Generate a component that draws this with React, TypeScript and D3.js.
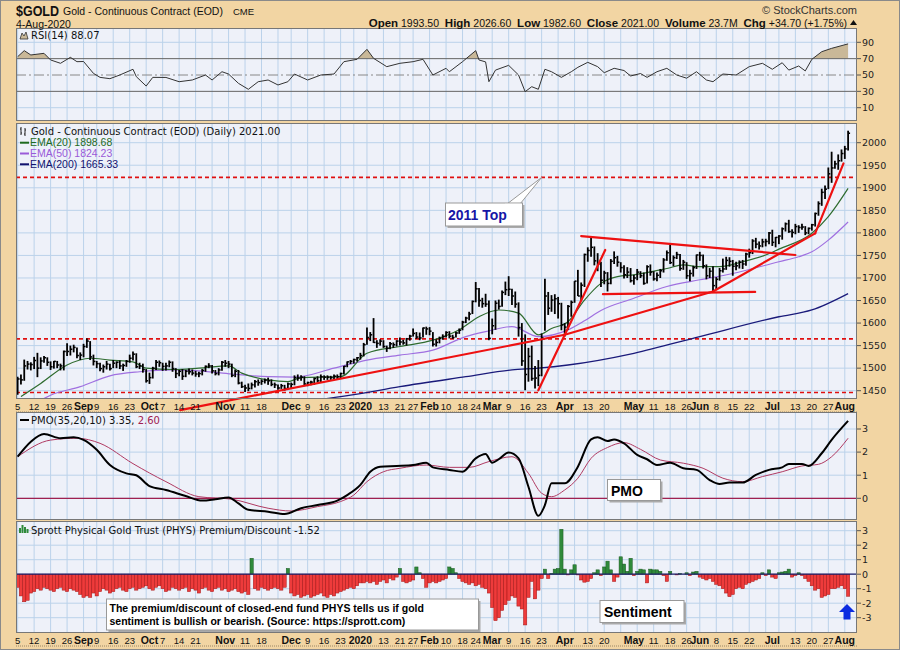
import React, { useEffect, useRef } from "react";
import * as d3 from "d3";

// ---------------------------------------------------------------------------
// DATA
// ---------------------------------------------------------------------------
const holidays = [
  "2019-09-02", "2019-11-28", "2019-12-25", "2020-01-01", "2020-01-20",
  "2020-02-17", "2020-04-10", "2020-05-25", "2020-07-03",
];

// daily bars, Aug 5 2019 .. Aug 4 2020 (one line per month)
const highs = [
  1481, 1486, 1519, 1516, 1513, 1525, 1534, 1524, 1527, 1524, 1515, 1516, 1516, 1510, 1539, 1555, 1550, 1552, 1546, 1535,
  1554, 1566, 1560, 1530, 1516, 1512, 1508, 1516, 1510, 1518, 1515, 1517, 1510, 1518, 1530, 1537, 1533, 1512, 1510, 1498,
  1490, 1503, 1518, 1517, 1512, 1512, 1517, 1515, 1500, 1496, 1498, 1496, 1499, 1497, 1494, 1492, 1498, 1506, 1511, 1507, 1496, 1500, 1516,
  1518, 1516, 1510, 1497, 1496, 1470, 1463, 1466, 1468, 1474, 1475, 1475, 1477, 1479, 1475, 1468, 1464, 1465, 1463, 1468,
  1468, 1484, 1486, 1484, 1482, 1470, 1472, 1479, 1482, 1486, 1484, 1484, 1483, 1486, 1486, 1490, 1505, 1515, 1518, 1521, 1525,
  1534, 1556, 1590, 1580, 1611, 1562, 1564, 1562, 1550, 1558, 1557, 1562, 1568, 1563, 1567, 1574, 1588, 1580, 1579, 1590, 1592,
  1591, 1580, 1564, 1570, 1575, 1582, 1582, 1574, 1581, 1588, 1605, 1614, 1625, 1650, 1691, 1678, 1656, 1665, 1650,
  1610, 1650, 1652, 1672, 1692, 1704, 1676, 1670, 1646, 1600, 1575, 1545, 1550, 1505, 1518, 1577, 1698, 1669, 1662, 1664, 1658, 1645,
  1600, 1640, 1650, 1693, 1718, 1690, 1754, 1768, 1790, 1770, 1755, 1736, 1716, 1713, 1742, 1759, 1749, 1735, 1728, 1724, 1722,
  1707, 1720, 1715, 1712, 1728, 1730, 1715, 1712, 1720, 1744, 1761, 1775, 1750, 1758, 1753, 1740, 1735, 1718, 1727, 1752,
  1758, 1752, 1730, 1722, 1726, 1702, 1722, 1743, 1747, 1746, 1740, 1736, 1739, 1740, 1756, 1765, 1786, 1789, 1781, 1787, 1787, 1802,
  1807, 1791, 1795, 1812, 1823, 1829, 1808, 1820, 1817, 1820, 1815, 1812, 1820, 1845, 1870, 1898, 1905, 1945, 1980, 1960, 1974, 1985,
  1993, 2026.6,
];
const lows = [
  1441, 1464, 1472, 1497, 1495, 1498, 1480, 1498, 1512, 1505, 1496, 1499, 1500, 1495, 1495, 1527, 1528, 1535, 1522, 1518,
  1524, 1545, 1518, 1506, 1500, 1493, 1490, 1497, 1495, 1500, 1500, 1498, 1494, 1503, 1512, 1517, 1500, 1498, 1490, 1468,
  1465, 1477, 1496, 1503, 1494, 1495, 1502, 1492, 1478, 1482, 1474, 1480, 1486, 1484, 1481, 1480, 1484, 1492, 1500, 1488, 1484, 1484, 1494,
  1503, 1500, 1480, 1480, 1464, 1456, 1447, 1449, 1453, 1457, 1461, 1463, 1466, 1463, 1460, 1456, 1452, 1454, 1450, 1455,
  1455, 1462, 1472, 1472, 1460, 1460, 1462, 1463, 1468, 1468, 1474, 1474, 1474, 1475, 1476, 1478, 1486, 1502, 1509, 1510, 1515,
  1519, 1526, 1552, 1560, 1556, 1545, 1550, 1545, 1536, 1542, 1545, 1548, 1550, 1552, 1550, 1561, 1570, 1565, 1562, 1568, 1574,
  1573, 1548, 1548, 1555, 1563, 1568, 1566, 1565, 1568, 1576, 1584, 1600, 1606, 1620, 1646, 1636, 1634, 1636, 1562,
  1575, 1585, 1630, 1636, 1662, 1660, 1640, 1634, 1570, 1505, 1451, 1470, 1472, 1455, 1460, 1482, 1583, 1618, 1625, 1620, 1610, 1584,
  1570, 1585, 1614, 1645, 1660, 1650, 1680, 1736, 1747, 1728, 1715, 1680, 1686, 1670, 1686, 1731, 1725, 1712, 1699, 1700, 1690,
  1685, 1695, 1700, 1685, 1688, 1705, 1694, 1693, 1700, 1712, 1738, 1731, 1726, 1742, 1716, 1718, 1698, 1693, 1703, 1720,
  1738, 1721, 1697, 1700, 1671, 1675, 1694, 1712, 1718, 1725, 1705, 1717, 1721, 1720, 1727, 1745, 1753, 1766, 1763, 1768, 1770, 1775,
  1771, 1768, 1775, 1785, 1803, 1800, 1790, 1797, 1800, 1807, 1795, 1797, 1805, 1814, 1838, 1860, 1875, 1897, 1911, 1942, 1940, 1958,
  1964, 1982.6,
];
const closes = [
  1476, 1474, 1505, 1509, 1508, 1517, 1500, 1516, 1523, 1513, 1503, 1515, 1507, 1505, 1537, 1537, 1542, 1546, 1528, 1529,
  1548, 1560, 1525, 1515, 1510, 1499, 1503, 1509, 1499, 1511, 1513, 1505, 1506, 1515, 1522, 1531, 1503, 1505, 1497, 1472,
  1479, 1500, 1513, 1512, 1504, 1505, 1513, 1499, 1488, 1493, 1482, 1493, 1492, 1489, 1487, 1488, 1495, 1504, 1505, 1494, 1488, 1496, 1513,
  1511, 1509, 1484, 1493, 1467, 1459, 1456, 1455, 1463, 1470, 1468, 1471, 1473, 1472, 1464, 1463, 1456, 1461, 1455, 1465,
  1464, 1479, 1478, 1480, 1465, 1468, 1469, 1477, 1472, 1481, 1480, 1480, 1479, 1482, 1481, 1488, 1504, 1514, 1515, 1519, 1523,
  1528, 1552, 1568, 1574, 1557, 1555, 1560, 1548, 1544, 1554, 1552, 1560, 1558, 1556, 1565, 1571, 1577, 1569, 1567, 1589, 1587,
  1582, 1553, 1557, 1566, 1570, 1579, 1571, 1568, 1578, 1584, 1602, 1611, 1620, 1648, 1676, 1650, 1643, 1642, 1566,
  1594, 1644, 1637, 1668, 1674, 1675, 1660, 1642, 1590, 1516, 1486, 1526, 1477, 1478, 1484, 1567, 1660, 1633, 1651, 1654, 1643, 1596,
  1591, 1637, 1646, 1693, 1660, 1684, 1752, 1761, 1768, 1738, 1731, 1695, 1711, 1688, 1737, 1745, 1735, 1723, 1707, 1713, 1694,
  1700, 1713, 1705, 1688, 1725, 1713, 1698, 1706, 1716, 1740, 1756, 1734, 1745, 1752, 1721, 1735, 1705, 1710, 1723, 1751,
  1750, 1727, 1705, 1715, 1683, 1697, 1716, 1720, 1739, 1737, 1726, 1727, 1735, 1731, 1753, 1756, 1782, 1775, 1771, 1780, 1781, 1800,
  1779, 1790, 1793, 1809, 1820, 1803, 1801, 1814, 1812, 1813, 1800, 1810, 1818, 1843, 1865, 1890, 1897, 1931, 1944, 1953, 1960, 1976,
  1986.3, 2021,
];

// moving averages (trading-day index, value)
const ema20At = [1, 7, 15, 22, 28, 35, 39, 47, 55, 64, 68, 76, 82, 86, 98, 106, 116, 126, 134, 140, 146, 152, 158, 162, 167, 172, 177, 182, 187, 197, 202, 207, 213, 220, 227, 231, 241, 246, 252];
const ema20Val = [1437, 1466, 1507, 1522, 1518, 1514, 1500, 1497, 1500, 1505, 1489, 1474, 1470, 1479, 1481, 1533, 1548, 1562, 1585, 1614, 1629, 1622, 1574, 1588, 1603, 1651, 1688, 1703, 1707, 1721, 1729, 1725, 1725, 1736, 1751, 1764, 1799, 1836, 1898.68];
const ema50At = [6, 10, 19, 28, 37, 47, 55, 65, 76, 84, 96, 106, 116, 126, 136, 142, 150, 158, 167, 172, 177, 187, 197, 207, 217, 231, 237, 241, 246, 252];
const ema50Val = [1425, 1440, 1459, 1483, 1492, 1496, 1494, 1487, 1481, 1480, 1500, 1518, 1529, 1540, 1570, 1581, 1592, 1570, 1585, 1605, 1628, 1655, 1681, 1696, 1710, 1736, 1747, 1758, 1784, 1824.23];
const ema200At = [86, 101, 116, 136, 150, 158, 167, 187, 207, 231, 241, 252];
const ema200Val = [1425, 1440, 1459, 1481, 1496, 1500, 1507, 1533, 1570, 1614, 1629, 1665.33];

const rsiAt = [0, 2, 4, 8, 10, 13, 16, 18, 20, 23, 25, 28, 31, 35, 36, 39, 41, 45, 49, 53, 57, 59, 62, 64, 67, 70, 73, 76, 79, 82, 84, 88, 92, 96, 99, 103, 106, 108, 112, 116, 120, 123, 126, 130, 131, 135, 139, 140, 142, 143, 145, 149, 152, 154, 156, 158, 160, 162, 165, 168, 170, 173, 176, 178, 181, 184, 186, 189, 191, 194, 197, 200, 203, 206, 209, 211, 214, 218, 222, 226, 229, 232, 234, 237, 239, 241, 244, 247, 252];
const rsiVal = [72.4, 79.8, 74.5, 76.5, 68.4, 64.3, 71.6, 66.3, 66.5, 52, 47.1, 45.5, 50, 57, 48, 36.5, 47.1, 47, 41.8, 43.9, 50, 43.9, 54, 51.2, 39.8, 32.5, 41.8, 43.9, 37.8, 41.8, 51.2, 43.9, 50, 51.2, 66.3, 69.2, 81.4, 70.4, 60.2, 64.3, 66.3, 69.2, 50, 58.2, 54, 66.3, 79.8, 68.4, 66, 41.8, 56, 61.8, 50, 29.6, 35.7, 32.5, 57, 54, 47.1, 54, 59.4, 65.5, 60.2, 52.8, 58.2, 55.5, 48.8, 51.8, 47.1, 54, 58.2, 50, 46.1, 54, 43.9, 41.8, 51.2, 50, 60.2, 64.3, 57, 65, 56, 61, 55, 69.2, 78.5, 82.6, 88.07];

const pmoAt = [0, 4, 8, 13, 17, 20, 24, 28, 33, 36, 40, 45, 51, 56, 60, 64, 67, 70, 76, 81, 86, 91, 97, 100, 104, 107, 110, 115, 120, 124, 126, 131, 135, 139, 142, 144, 146, 149, 152, 155, 158, 160, 162, 166, 170, 174, 176, 179, 181, 184, 188, 191, 194, 198, 202, 206, 210, 213, 216, 220, 224, 228, 232, 234, 238, 240, 244, 247, 252];
const pmoVal = [1.8, 2.45, 2.78, 2.6, 2.64, 2.53, 2.1, 1.44, 1.08, 1.0, 0.53, 0.36, 0.1, -0.1, -0.04, 0.04, -0.22, -0.5, -0.58, -0.68, -0.43, -0.29, -0.1, 0.14, 0.58, 1.15, 1.37, 1.4, 1.44, 1.54, 1.34, 1.23, 1.15, 1.73, 1.92, 1.54, 1.69, 1.98, 1.73, 0.5, -0.76, -0.29, 0.65, 0.65, 1.37, 2.55, 2.64, 2.48, 2.55, 2.38, 1.88, 1.69, 1.44, 1.54, 1.3, 1.23, 0.79, 0.62, 0.68, 0.68, 1.01, 1.23, 1.34, 1.49, 1.49, 1.4, 1.95, 2.53, 3.35];
const sigAt = [0, 10, 18, 25, 35, 45, 55, 65, 76, 83, 91, 98, 102, 106, 111, 116, 124, 131, 137, 143, 150, 155, 159, 162, 166, 170, 174, 179, 184, 189, 195, 202, 208, 214, 220, 226, 232, 238, 243, 247, 252];
const sigVal = [1.8, 2.52, 2.6, 2.38, 1.5, 0.72, 0.07, -0.04, -0.43, -0.55, -0.36, -0.14, 0.14, 0.72, 1.15, 1.3, 1.44, 1.34, 1.34, 1.59, 1.8, 1.08, 0.22, 0.07, 0.36, 0.87, 1.73, 2.2, 2.41, 2.12, 1.66, 1.52, 1.3, 0.87, 0.72, 0.94, 1.15, 1.4, 1.47, 1.8, 2.6];

// PHYS premium/discount, daily (one line per month)
const premium = [
  -0.9, -1.5, -1.9, -1.8, -1.3, -1.2, -1.0, -1.1, -0.9, -1.0, -1.1, -1.2, -1.0, -0.9, -1.1, -1.2, -1.0, -1.1, -1.2, -1.4,
  -1.6, -1.5, -1.6, -1.3, -1.5, -1.2, -1.0, -1.1, -1.3, -1.2, -1.0, -0.9, -1.1, -1.2, -1.0, -0.9, -1.1, -1.0, -0.9, -0.8,
  -1.0, -1.1, -0.9, -0.8, -1.0, -1.2, -1.1, -0.9, -1.0, -1.1, -1.0, -0.9, -1.2, -1.0, -1.1, -1.3, -1.0, -0.9, -1.1, -1.2, -1.0, -0.9, -1.1,
  -1.0, -1.2, -1.1, -1.0, -1.2, -1.3, -1.2, -1.4, 1.1, -1.0, -1.1, -0.9, -1.0, -1.1, -1.0, -0.9, -1.0, -1.1, -0.9, 0.4,
  -1.3, -1.5, -1.4, -1.6, -1.5, -1.4, -1.6, -1.5, -1.4, -1.3, -1.5, -1.6, -1.4, -1.5, -1.3, -1.2, -1.1, -1.0, -0.9, -1.0, -0.8,
  -0.6, -0.6, -0.5, -0.6, -0.5, -0.7, -0.5, -0.4, -0.6, -0.3, -0.4, -0.2, 0.4, -0.5, -0.6, -0.5, -0.4, 0.5, 0.1, -0.3, -0.9,
  -0.6, -0.5, -0.6, -0.5, -0.4, -0.3, 0.5, 0.4, 0.1, -0.3, -0.5, -0.6, -0.7, -0.6, -0.8, -0.7, -0.9, -1.0, -1.3,
  -2.3, -3.2, -3.0, -2.5, -2.1, -1.8, -1.5, -1.6, -2.2, -2.4, -3.5, -1.6, -0.5, -1.7, -1.1, -0.3, 0.35, -0.3, 0.05, 0.35, 0.4, 3.1,
  0.35, -0.05, 0.3, 0.65, -0.05, -0.4, -0.55, -0.5, -0.3, 0.1, 0.3, -0.1, 0.5, 0.9, 0.3, -0.5, -0.2, 1.2, 0.7, 0.2, 1.1,
  -0.1, 0.2, 0.35, 0.3, -0.6, 0.35, 0.3, 0.3, 0.2, -0.1, -0.5, 0.2, 0.0, -0.05, 0.05, 0.0, 0.1, -0.1, 0.15, 0.2,
  -0.2, -0.3, -0.4, -0.3, -0.5, -0.7, -0.8, -1.0, -1.3, -1.55, -1.4, -1.0, -0.9, -1.0, -0.7, -0.6, -0.5, -0.4, -0.3, 0.1, -0.1, 0.3,
  -0.2, -0.3, 0.1, 0.15, 0.2, 0.35, -0.2, -0.1, 0.1, -0.1, -0.3, -0.5, -0.8, -1.1, -1.0, -1.6, -1.5, -1.4, -1.0, -1.0, -0.9, -0.8,
  -1.0, -1.52,
];

// date axis
const tickDates = [
  "2019-08-05", "2019-08-12", "2019-08-19", "2019-08-26", "2019-09-03", "2019-09-09", "2019-09-16", "2019-09-23",
  "2019-10-01", "2019-10-07", "2019-10-14", "2019-10-21", "2019-11-01", "2019-11-11", "2019-11-18", "2019-12-02",
  "2019-12-09", "2019-12-16", "2019-12-23", "2020-01-02", "2020-01-13", "2020-01-21", "2020-01-27", "2020-02-03",
  "2020-02-10", "2020-02-18", "2020-02-24", "2020-03-02", "2020-03-09", "2020-03-16", "2020-03-23", "2020-04-01",
  "2020-04-13", "2020-04-20", "2020-05-01", "2020-05-11", "2020-05-18", "2020-05-26", "2020-06-01", "2020-06-08",
  "2020-06-15", "2020-06-22", "2020-07-01", "2020-07-13", "2020-07-20", "2020-07-27", "2020-08-03",
];
const tickText = [
  "5", "12", "19", "26", "Sep", "9", "16", "23", "Oct", "7", "14", "21", "Nov", "11", "18", "Dec",
  "9", "16", "23", "2020", "13", "21", "27", "Feb", "10", "18", "24", "Mar", "9", "16", "23", "Apr",
  "13", "20", "May", "11", "18", "26", "Jun", "8", "15", "22", "Jul", "13", "20", "27", "Aug",
];

const priceTicks = [1450, 1500, 1550, 1600, 1650, 1700, 1750, 1800, 1850, 1900, 1950, 2000];
const rsiTicks = [10, 30, 50, 70, 90];
const pmoTicks = [0, 1, 2, 3];
const premTicks = [-3, -2, -1, 0, 1, 2, 3];
const levels = [1923, 1565, 1446];

// hand-drawn trend lines: [index, price] -> [index, price]
const trendLines = [
  [[49.3, 1407], [166, 1574]],
  [[166, 1574], [211, 1670]],
  [[211, 1670], [242, 1799]],
  [[158, 1451], [178.3, 1762]],
  [[171, 1793], [236, 1751]],
  [[177.6, 1664], [223.8, 1669]],
  [[242, 1799], [250.6, 1954]],
];

function tradingDays(): string[] {
  const out: string[] = [];
  const d = new Date(Date.UTC(2019, 7, 5));
  const end = new Date(Date.UTC(2020, 7, 4));
  while (d <= end) {
    const wd = d.getUTCDay();
    const s = d.toISOString().slice(0, 10);
    if (wd !== 0 && wd !== 6 && !holidays.includes(s)) out.push(s);
    d.setUTCDate(d.getUTCDate() + 1);
  }
  return out;
}

const TAN = "#F2D5A3";
const PLOT = "#EEF1F9";
const GRID = "#BBD2EA";
const SANS = "'Liberation Sans', Arial, sans-serif";
const VERD = "'DejaVu Sans', Verdana, sans-serif";

export default function App() {
  const svgRef = useRef<SVGSVGElement | null>(null);

  useEffect(() => {
    const days = tradingDays();
    const svg = d3.select(svgRef.current);
    svg.selectAll("*").remove();

    const L = 16;
    const R = 857;
    const x = d3.scaleLinear().domain([-0.5, 254.7]).range([L, R]);
    const step = x(1) - x(0);

    const pRsi = [28, 121];
    const pMain = [123, 399];
    const pPmo = [412, 520];
    const pSent = [521, 633];

    const yR = d3.scaleLinear().domain([10, 90]).range([107.7, 42.3]);
    const yM = d3.scaleLinear().domain([1450, 2000]).range([390.7, 142.7]);
    const yP = d3.scaleLinear().domain([0, 3]).range([498.3, 429]);
    const yS = d3.scaleLinear().domain([-3, 3]).range([617.7, 530.7]);

    // week starts for vertical grid
    const weekStarts: number[] = [];
    days.forEach((s, i) => {
      if (i === 0) return weekStarts.push(0);
      const a = new Date(s + "T00:00:00Z").getUTCDay();
      const b = new Date(days[i - 1] + "T00:00:00Z").getUTCDay();
      if (a < b) weekStarts.push(i);
    });

    svg.append("rect").attr("width", 900).attr("height", 650).attr("fill", TAN);
    svg.append("rect").attr("x", 0.5).attr("y", 0.5).attr("width", 899).attr("height", 649)
      .attr("fill", "none").attr("stroke", "#8a8a8a");

    const defs = svg.append("defs");
    const clip = (id: string, p: number[]) => {
      defs.append("clipPath").attr("id", id).append("rect")
        .attr("x", L).attr("y", p[0]).attr("width", R - L).attr("height", p[1] - p[0]);
      return `url(#${id})`;
    };

    const panelBg = (p: number[], ticks: number[], y: (v: number) => number) => {
      svg.append("rect").attr("x", L).attr("y", p[0]).attr("width", R - L).attr("height", p[1] - p[0]).attr("fill", PLOT);
      const g = svg.append("g");
      weekStarts.forEach((i) => {
        g.append("line").attr("x1", x(i)).attr("x2", x(i)).attr("y1", p[0]).attr("y2", p[1])
          .attr("stroke", GRID).attr("stroke-width", 1);
      });
      ticks.forEach((t) => {
        g.append("line").attr("x1", L).attr("x2", R).attr("y1", y(t)).attr("y2", y(t))
          .attr("stroke", GRID).attr("stroke-width", 1);
      });
    };
    const panelFrame = (p: number[], ticks: number[], y: (v: number) => number, fmt: (v: number) => string) => {
      svg.append("rect").attr("x", L + 0.5).attr("y", p[0] + 0.5).attr("width", R - L - 1).attr("height", p[1] - p[0] - 1)
        .attr("fill", "none").attr("stroke", "#777");
      ticks.forEach((t) => {
        svg.append("line").attr("x1", R).attr("x2", R + 4).attr("y1", y(t)).attr("y2", y(t)).attr("stroke", "#555");
        svg.append("text").attr("x", R + 5).attr("y", y(t)).attr("dy", "0.35em")
          .attr("font-family", VERD).attr("font-size", 9.5).attr("fill", "#222").text(fmt(t));
      });
    };

    // ------------------------------------------------------------------ RSI
    panelBg(pRsi, [10, 90], yR);
    const rsiPts = rsiAt.map((a, k) => [a, rsiVal[k]] as [number, number]);
    const cRsi = clip("cRsi", pRsi);
    defs.append("clipPath").attr("id", "cAbove").append("rect").attr("x", L).attr("y", pRsi[0]).attr("width", R - L).attr("height", yR(70) - pRsi[0]);
    defs.append("clipPath").attr("id", "cBelow").append("rect").attr("x", L).attr("y", yR(30)).attr("width", R - L).attr("height", pRsi[1] - yR(30));
    const rsiArea = (lvl: number) => d3.area<[number, number]>().x((d) => x(d[0])).y0(yR(lvl)).y1((d) => yR(d[1]));
    svg.append("path").datum(rsiPts).attr("d", rsiArea(70)).attr("fill", "#C9B898").attr("clip-path", "url(#cAbove)");
    svg.append("path").datum(rsiPts).attr("d", rsiArea(30)).attr("fill", "#C9B898").attr("clip-path", "url(#cBelow)");
    [30, 70].forEach((v) => svg.append("line").attr("x1", L).attr("x2", R).attr("y1", yR(v)).attr("y2", yR(v)).attr("stroke", "#666"));
    svg.append("line").attr("x1", L).attr("x2", R).attr("y1", yR(50)).attr("y2", yR(50))
      .attr("stroke", "#888").attr("stroke-dasharray", "10,3,2,3");
    svg.append("path").datum(rsiPts)
      .attr("d", d3.line<[number, number]>().x((d) => x(d[0])).y((d) => yR(d[1])))
      .attr("fill", "none").attr("stroke", "#333").attr("stroke-width", 1).attr("clip-path", cRsi);
    panelFrame(pRsi, rsiTicks, yR, (v) => String(v));
    // title
    svg.append("path").attr("d", "M20,39 L22,33 L24,36 L26,32 L28,39 Z").attr("fill", "#C9B898").attr("stroke", "#333").attr("stroke-width", 0.8);
    svg.append("text").attr("x", 31).attr("y", 39).attr("font-family", VERD).attr("font-size", 10).attr("fill", "#111").text("RSI(14) 88.07");

    // ------------------------------------------------------------------ MAIN
    panelBg(pMain, priceTicks, yM);
    const cMain = clip("cMain", pMain);
    const gM = svg.append("g").attr("clip-path", cMain);
    levels.forEach((v) => {
      gM.append("line").attr("x1", L).attr("x2", R).attr("y1", yM(v)).attr("y2", yM(v))
        .attr("stroke", "#E01010").attr("stroke-width", 1.6).attr("stroke-dasharray", "4,3");
    });
    const emaLine = d3.line<[number, number]>().x((d) => x(d[0])).y((d) => yM(d[1])).curve(d3.curveMonotoneX);
    const emas: [number[], number[], string, number][] = [
      [ema200At, ema200Val, "#1A1A7A", 1.3],
      [ema50At, ema50Val, "#A070E0", 1.2],
      [ema20At, ema20Val, "#2E6B2E", 1.2],
    ];
    emas.forEach(([at, val, col, w]) => {
      gM.append("path").datum(at.map((a, k) => [a, val[k]] as [number, number]))
        .attr("d", emaLine).attr("fill", "none").attr("stroke", col).attr("stroke-width", w);
    });
    const bars = gM.append("g").attr("stroke", "#000");
    closes.forEach((c, i) => {
      bars.append("line").attr("x1", x(i)).attr("x2", x(i)).attr("y1", yM(highs[i])).attr("y2", yM(lows[i])).attr("stroke-width", 1.8);
      bars.append("line").attr("x1", x(i)).attr("x2", x(i) + step * 0.6).attr("y1", yM(c)).attr("y2", yM(c)).attr("stroke-width", 1.5);
    });
    trendLines.forEach(([a, b]) => {
      svg.append("line").attr("x1", x(a[0])).attr("y1", yM(a[1])).attr("x2", x(b[0])).attr("y2", yM(b[1]))
        .attr("stroke", "#EE1111").attr("stroke-width", 2.2).attr("stroke-linecap", "round");
    });
    // 2011 Top callout
    const tip = [x(159), yM(1923)];
    svg.append("rect").attr("x", 447.5).attr("y", 205).attr("width", 77).attr("height", 23).attr("fill", "#aaa");
    svg.append("polygon").attr("points", `507,204 520,204 ${tip[0]},${tip[1]}`).attr("fill", "#fff").attr("stroke", "#999");
    svg.append("rect").attr("x", 445.5).attr("y", 203).attr("width", 77).attr("height", 23).attr("fill", "#fff").attr("stroke", "#999");
    svg.append("rect").attr("x", 505).attr("y", 203.8).attr("width", 16).attr("height", 1.5).attr("fill", "#fff");
    svg.append("text").attr("x", 448).attr("y", 219.5).attr("font-family", SANS).attr("font-weight", "bold")
      .attr("font-size", 14).attr("fill", "#1616A6").text("2011 Top");
    panelFrame(pMain, priceTicks, yM, (v) => String(v));
    // titles
    svg.append("path").attr("d", "M21,127 V135 M20,129 H21 M21,133 H22 M25,128 V136 M24,134 H25 M25,130 H26")
      .attr("stroke", "#222").attr("stroke-width", 1);
    svg.append("text").attr("x", 31).attr("y", 135).attr("font-family", VERD).attr("font-size", 10).attr("fill", "#111")
      .text("Gold - Continuous Contract (EOD) (Daily) 2021.00");
    const legend: [string, string][] = [
      ["EMA(20) 1898.68", "#1E6B1E"],
      ["EMA(50) 1824.23", "#9A5AD8"],
      ["EMA(200) 1665.33", "#12126E"],
    ];
    legend.forEach(([t, c], k) => {
      const yy = 142.7 + k * 10.8;
      svg.append("line").attr("x1", 20).attr("x2", 29).attr("y1", yy).attr("y2", yy).attr("stroke", c).attr("stroke-width", 2);
      svg.append("text").attr("x", 30).attr("y", yy + 3.6).attr("font-family", SANS).attr("font-size", 10.5).attr("fill", c).text(t);
    });

    // ------------------------------------------------------------------ date bands
    const dateBand = (yTop: number) => {
      svg.append("line").attr("x1", L).attr("x2", R).attr("y1", yTop + 13).attr("y2", yTop + 13)
        .attr("stroke", "#9a8666").attr("stroke-dasharray", "1,1");
      tickDates.forEach((s, k) => {
        const i = days.indexOf(s);
        const bold = /[A-Za-z]/.test(tickText[k]) || tickText[k] === "2020";
        svg.append("text").attr("x", x(i)).attr("y", yTop + 10.5).attr("text-anchor", "middle")
          .attr("font-family", SANS).attr("font-size", bold ? 10.5 : 9.5).attr("font-weight", bold ? "bold" : "normal")
          .attr("fill", "#111").text(tickText[k]);
      });
    };
    dateBand(pMain[1]);
    dateBand(pSent[1]);

    // ------------------------------------------------------------------ PMO
    panelBg(pPmo, pmoTicks, yP);
    const cPmo = clip("cPmo", pPmo);
    svg.append("line").attr("x1", L).attr("x2", R).attr("y1", yP(0)).attr("y2", yP(0)).attr("stroke", "#A02050").attr("stroke-width", 1.2);
    const pLine = d3.line<[number, number]>().x((d) => x(d[0])).y((d) => yP(d[1])).curve(d3.curveMonotoneX);
    svg.append("path").datum(sigAt.map((a, k) => [a, sigVal[k]] as [number, number])).attr("d", pLine)
      .attr("fill", "none").attr("stroke", "#B03A62").attr("stroke-width", 1).attr("clip-path", cPmo);
    svg.append("path").datum(pmoAt.map((a, k) => [a, pmoVal[k]] as [number, number])).attr("d", pLine)
      .attr("fill", "none").attr("stroke", "#000").attr("stroke-width", 2).attr("clip-path", cPmo);
    svg.append("rect").attr("x", 609.5).attr("y", 481.5).attr("width", 53).attr("height", 21).attr("fill", "#aaa");
    svg.append("rect").attr("x", 607.5).attr("y", 479.5).attr("width", 53).attr("height", 21).attr("fill", "#fff").attr("stroke", "#999");
    svg.append("text").attr("x", 611).attr("y", 495.5).attr("font-family", SANS).attr("font-weight", "bold").attr("font-size", 14).text("PMO");
    panelFrame(pPmo, pmoTicks, yP, (v) => String(v));
    svg.append("line").attr("x1", 20).attr("x2", 29).attr("y1", 420).attr("y2", 420).attr("stroke", "#000").attr("stroke-width", 2);
    const pt = svg.append("text").attr("x", 31).attr("y", 423.5).attr("font-family", VERD).attr("font-size", 10).attr("fill", "#111");
    pt.append("tspan").text("PMO(35,20,10) 3.35, ");
    pt.append("tspan").attr("fill", "#A02050").text("2.60");

    // ------------------------------------------------------------------ PHYS premium
    panelBg(pSent, premTicks, yS);
    const cSent = clip("cSent", pSent);
    const gS = svg.append("g").attr("clip-path", cSent);
    premium.forEach((v, i) => {
      const up = v >= 0;
      gS.append("rect").attr("x", x(i) - step / 2).attr("width", step)
        .attr("y", yS(Math.max(0, v))).attr("height", Math.abs(yS(v) - yS(0)))
        .attr("fill", up ? "#2F8A3A" : "#EE3B3B").attr("stroke", up ? "#1D5A24" : "#A31515").attr("stroke-width", 0.5);
    });
    svg.append("line").attr("x1", L).attr("x2", R).attr("y1", yS(0)).attr("y2", yS(0)).attr("stroke", "#20206A").attr("stroke-width", 1.2);
    // note box
    svg.append("rect").attr("x", 108.5).attr("y", 601).attr("width", 372).attr("height", 31).attr("fill", "#aaa");
    svg.append("rect").attr("x", 106.5).attr("y", 599).attr("width", 372).attr("height", 31).attr("fill", "#fff").attr("stroke", "#999");
    svg.append("text").attr("x", 109.5).attr("y", 612).attr("font-family", SANS).attr("font-weight", "bold").attr("font-size", 10.5)
      .text("The premium/discount of closed-end fund PHYS tells us if gold");
    svg.append("text").attr("x", 109.5).attr("y", 624.5).attr("font-family", SANS).attr("font-weight", "bold").attr("font-size", 10.5)
      .text("sentiment is bullish or bearish. (Source: https://sprott.com)");
    svg.append("rect").attr("x", 602).attr("y", 602.5).attr("width", 84).attr("height", 22).attr("fill", "#aaa");
    svg.append("rect").attr("x", 600).attr("y", 600.5).attr("width", 84).attr("height", 22).attr("fill", "#fff").attr("stroke", "#999");
    svg.append("text").attr("x", 604).attr("y", 617).attr("font-family", SANS).attr("font-weight", "bold").attr("font-size", 14).text("Sentiment");
    // blue arrow
    svg.append("path").attr("d", "M847,604 L855,612 L850.5,612 L850.5,619.5 L843.5,619.5 L843.5,612 L839,612 Z").attr("fill", "#0B2BE0");
    panelFrame(pSent, premTicks, yS, (v) => String(v));
    svg.append("path").attr("d", "M20,533 V528 M22.5,533 V525 M25,533 V527 M27.5,533 V529").attr("stroke", "#2F8A3A").attr("stroke-width", 2);
    svg.append("text").attr("x", 31).attr("y", 534).attr("font-family", VERD).attr("font-size", 10).attr("fill", "#111")
      .text("Sprott Physical Gold Trust (PHYS) Premium/Discount -1.52");

    // ------------------------------------------------------------------ header
    svg.append("text").attr("x", 16).attr("y", 15.5).attr("font-family", SANS).attr("font-weight", "bold").attr("font-size", 14)
      .attr("textLength", 43).attr("lengthAdjust", "spacingAndGlyphs").attr("fill", "#111").text("$GOLD");
    svg.append("text").attr("x", 63).attr("y", 14.5).attr("font-family", SANS).attr("font-size", 10.5)
      .attr("fill", "#111").text("Gold - Continuous Contract (EOD)");
    svg.append("text").attr("x", 233).attr("y", 14.5).attr("font-family", SANS).attr("font-size", 9.5).attr("fill", "#111").text("CME");
    svg.append("text").attr("x", 16).attr("y", 27.5).attr("font-family", SANS).attr("font-size", 10.5).attr("fill", "#111").text("4-Aug-2020");
    svg.append("text").attr("x", 857).attr("y", 14).attr("text-anchor", "end").attr("font-family", SANS).attr("font-size", 11).attr("fill", "#333").text("© StockCharts.com");
    const hdr = svg.append("text").attr("x", 847).attr("y", 26.5).attr("text-anchor", "end").attr("font-family", SANS)
      .attr("font-size", 11).attr("fill", "#111").style("white-space", "pre");
    const parts: [string, string][] = [
      ["Open", " 1993.50  "], ["High", " 2026.60  "], ["Low", " 1982.60  "], ["Close", " 2021.00  "],
      ["Volume", " 23.7M  "], ["Chg", " +34.70 (+1.75%)"],
    ];
    parts.forEach(([k, v]) => {
      hdr.append("tspan").attr("font-weight", "bold").attr("font-size", 11.5).text(k);
      hdr.append("tspan").attr("font-size", 10.5).text(v);
    });
    svg.append("path").attr("d", "M850,25 L853.5,20 L857,25 Z").attr("fill", "#111");
  }, []);

  return (
    <div style={{ position: "absolute", left: 0, top: 0, width: 900, height: 650 }}>
      <svg ref={svgRef} width={900} height={650} style={{ display: "block" }} />
    </div>
  );
}
